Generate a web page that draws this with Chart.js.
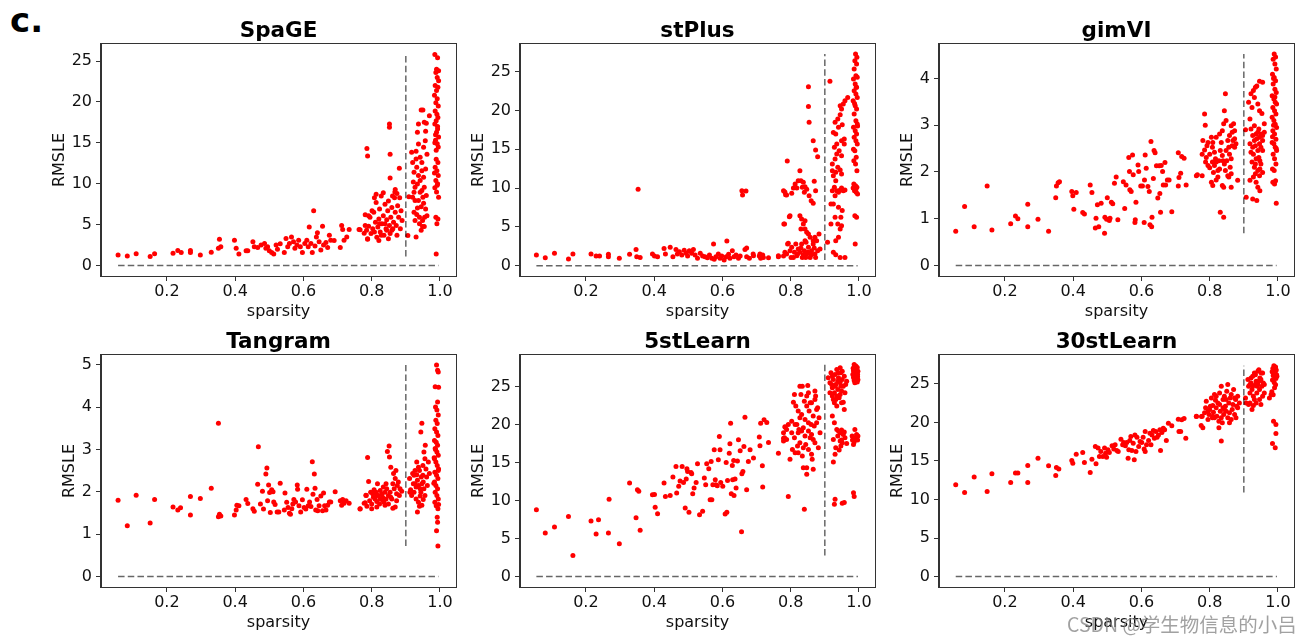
<!DOCTYPE html>
<html>
<head>
<meta charset="utf-8">
<script src="https://cdn.jsdelivr.net/npm/chart.js@4.4.0/dist/chart.umd.min.js"></script>
<style>
  body { margin: 0; background: #fff; width: 1311px; height: 642px; overflow: hidden; position: relative; }
  canvas { position: absolute; }
  #tag { position: absolute; left: 10px; top: 3px; font: bold 34px "DejaVu Sans"; line-height: 1; color: #000; }
  #mark { position: absolute; left: 1067px; top: 609px; font: 19.5px "Noto Sans CJK SC"; color: rgba(130,130,130,0.75); white-space: nowrap; }
</style>
</head>
<body>
<div id="tag">c.</div>
<canvas id="p0" width="435" height="326" style="left:31px;top:0px"></canvas>
<canvas id="p1" width="435" height="326" style="left:450px;top:0px"></canvas>
<canvas id="p2" width="435" height="326" style="left:869px;top:0px"></canvas>
<canvas id="p3" width="435" height="326" style="left:31px;top:311px"></canvas>
<canvas id="p4" width="435" height="326" style="left:450px;top:311px"></canvas>
<canvas id="p5" width="435" height="326" style="left:869px;top:311px"></canvas>
<div id="mark">CSDN @学生物信息的小吕</div>
<script>
// tick labels
const sparsityTicks = [0.2, 0.4, 0.6, 0.8, 1.0];
const sparsityLabels = ['0.2', '0.4', '0.6', '0.8', '1.0'];
const rmsleTicks25 = [0, 5, 10, 15, 20, 25];
const rmsleTicks4 = [0, 1, 2, 3, 4];
const rmsleTicks5 = [0, 1, 2, 3, 4, 5];
const sparsityCut = 0.9;

const methods = ['SpaGE', 'stPlus', 'gimVI', 'Tangram', '5stLearn', '30stLearn'];

// [sparsity, RMSLE] per gene
const spagePts = [
[0.057,1.3],[0.084,1.18],[0.110,1.43],[0.151,1.1],[0.164,1.43],[0.218,1.5],[0.232,1.83],[0.242,1.6],[0.269,1.83],[0.269,1.6],
[0.298,1.3],[0.330,1.63],[0.351,2.1],[0.354,3.2],[0.358,2.3],[0.398,3.1],[0.403,2.1],[0.411,1.4],[0.432,1.8],[0.437,1.8],
[0.452,2.9],[0.456,2.3],[0.466,2.2],[0.476,2.5],[0.486,2.7],[0.490,2.1],[0.495,2.3],[0.500,1.8],[0.507,1.6],[0.513,1.4],
[0.520,2.5],[0.524,2.0],[0.532,2.65],[0.544,1.6],[0.549,3.3],[0.554,2.3],[0.559,2.7],[0.565,3.5],[0.571,2.9],[0.575,2.1],
[0.581,2.5],[0.586,3.1],[0.591,2.3],[0.597,1.6],[0.604,2.7],[0.610,3.1],[0.614,2.3],[0.617,4.7],[0.622,2.7],[0.626,1.6],
[0.630,6.7],[0.634,2.4],[0.638,3.5],[0.641,4.0],[0.646,2.9],[0.651,1.9],[0.656,4.8],[0.659,2.5],[0.666,2.8],[0.671,2.2],
[0.676,3.7],[0.680,3.1],[0.690,3.05],[0.708,2.2],[0.712,4.9],[0.715,4.4],[0.719,3.1],[0.727,3.5],[0.734,4.4],[0.763,4.4],
[0.778,3.95],[0.786,14.3],[0.788,13.4],[0.788,3.2],
[0.766,4.36],[0.781,4.9],[0.781,6.2],[0.785,4.3],[0.788,3.27],[0.791,4.8],[0.795,5.9],[0.798,3.9],[0.801,6.7],[0.803,4.5],
[0.808,8.3],[0.811,5.3],[0.813,7.7],[0.815,3.46],[0.818,4.7],[0.821,5.7],[0.823,6.9],[0.825,4.1],[0.828,8.5],[0.830,5.1],
[0.834,6.1],[0.836,3.7],[0.839,7.5],[0.842,4.5],[0.844,5.6],[0.847,6.7],[0.849,7.9],[0.852,4.9],[0.854,3.9],[0.856,5.9],
[0.859,7.1],[0.862,4.5],[0.864,5.3],[0.867,8.3],[0.869,6.5],[0.872,4.9],[0.874,3.7],[0.876,7.3],[0.879,5.9],[0.882,8.3],
[0.884,4.5],[0.886,6.7],[0.889,5.5],[0.869,9.3],[0.861,8.5],[0.834,8.9],[0.813,8.7],[0.791,6.1],[0.806,6.5],[0.821,3.06],
[0.849,3.27],[0.839,5.1],[0.823,5.1],[0.844,4.3],[0.859,4.3],[0.828,3.7],[0.808,4.1],[0.852,17.3],[0.852,16.9],[0.854,13.6],
[0.881,11.9],[0.854,10.7],[0.868,9.0],[0.874,8.8],
[0.909,8.4],[0.906,3.66],[0.930,3.5],
[0.917,13.84],[0.930,13.96],[0.937,17.3],[0.934,16.28],[0.945,19.0],[0.950,19.0],[0.954,17.5],[0.958,16.4],[0.960,17.4],[0.969,18.3],
[0.952,14.45],[0.957,15.26],[0.930,13.03],[0.942,13.23],[0.924,11.4],[0.932,12.0],[0.937,11.0],[0.947,11.6],[0.952,10.8],[0.922,10.2],
[0.927,9.57],[0.934,9.98],[0.942,8.96],[0.947,9.16],[0.954,9.57],[0.960,8.55],[0.920,8.35],[0.927,7.94],[0.937,7.94],[0.945,7.2],
[0.952,7.6],[0.958,6.9],[0.924,6.5],[0.932,6.23],[0.940,5.9],[0.949,5.5],[0.927,5.5],[0.954,4.77],[0.940,5.1],[0.962,6.1],
[0.934,7.04],[0.950,8.35],[0.942,10.4],[0.958,11.8],[0.962,13.6],[0.920,12.6],[0.947,12.6],[0.937,14.86],[0.924,8.96],[0.955,5.9],
[0.945,4.3],[0.949,4.77],
[0.985,25.8],[0.993,25.4],[0.990,24.0],[0.996,23.8],[0.988,23.6],[0.992,23.0],[0.986,22.0],[0.994,21.8],[0.990,21.4],[0.984,20.8],
[0.992,20.4],[0.988,19.9],[0.995,19.5],[0.986,18.9],[0.991,18.5],[0.994,18.1],[0.989,17.7],[0.985,17.3],[0.993,16.7],[0.990,16.3],
[0.996,15.7],[0.987,15.3],[0.992,14.9],[0.989,14.1],[0.994,12.6],[0.986,12.0],[0.991,11.6],[0.995,11.0],[0.988,10.4],[0.993,10.0],
[0.985,9.5],[0.990,9.0],[0.996,8.35],[0.988,5.9],[0.994,5.7],[0.991,5.1],[0.989,1.4],[0.993,17.0],[0.987,16.0],[0.995,14.5],
[0.984,11.3],[0.992,9.8],[0.989,13.0],[0.996,22.6],[0.985,15.0]
];

const stplusPts = [
[0.055,1.37],[0.081,1.03],[0.108,1.6],[0.149,0.86],[0.162,1.5],[0.215,1.5],[0.230,1.25],[0.240,1.25],[0.266,1.46],[0.266,1.16],
[0.298,0.95],[0.328,1.46],[0.347,2.1],[0.353,9.84],[0.349,1.16],[0.359,1.07],[0.395,1.5],[0.401,1.25],[0.410,1.16],[0.429,2.23],
[0.433,1.5],[0.447,2.36],[0.455,1.16],[0.464,2.1],[0.468,1.5],[0.474,1.8],[0.481,1.37],[0.488,2.0],[0.494,1.6],[0.498,1.25],
[0.503,1.93],[0.510,1.6],[0.515,2.1],[0.520,1.37],[0.527,0.95],[0.535,1.6],[0.542,1.25],[0.549,1.16],[0.556,1.03],[0.562,1.37],
[0.569,0.95],[0.574,2.8],[0.576,0.82],[0.581,1.16],[0.588,1.5],[0.593,0.95],[0.598,1.25],[0.605,0.73],[0.611,1.16],[0.613,3.18],
[0.618,1.46],[0.622,0.95],[0.629,1.93],[0.634,1.16],[0.640,1.37],[0.647,0.95],[0.652,1.25],[0.657,9.66],[0.659,9.1],[0.666,2.1],
[0.669,9.62],[0.671,1.16],[0.679,0.95],[0.690,1.5],[0.708,1.25],[0.712,0.95],[0.718,1.37],[0.735,1.03],[0.764,1.16],[0.779,1.25],
[0.780,5.37],[0.783,9.5],[0.788,9.1],[0.790,13.5],[0.793,2.88],[0.796,6.3],
[0.671,2.28],[0.691,1.29],[0.710,1.5],[0.720,1.07],[0.764,1.29],[0.788,1.5],[0.791,2.79],[0.798,1.93],[0.803,2.36],[0.811,1.72],
[0.815,2.79],[0.818,1.29],[0.822,2.15],[0.827,1.72],[0.832,2.79],[0.834,1.07],[0.840,1.93],[0.842,3.22],[0.847,1.5],[0.852,2.36],
[0.857,1.07],[0.861,1.93],[0.866,2.79],[0.871,1.5],[0.873,1.07],[0.879,1.93],[0.883,4.08],[0.886,2.15],[0.876,3.22],[0.808,1.07],
[0.820,1.5],[0.837,1.42],[0.850,1.72],[0.860,1.42],[0.869,2.28],[0.830,2.28],[0.801,1.07],[0.783,1.72],[0.844,1.07],
[0.782,5.37],[0.798,6.44],[0.827,6.44],[0.832,6.01],[0.837,5.37],[0.830,4.73],[0.842,4.73],[0.847,4.3],[0.852,4.08],[0.857,3.65],
[0.845,3.01],[0.842,5.8],[0.866,3.22],[0.871,3.65],
[0.779,9.67],[0.785,9.15],[0.803,9.32],[0.808,10.01],[0.813,10.52],[0.822,10.95],[0.830,10.95],[0.834,10.1],[0.837,10.74],[0.842,10.18],
[0.847,9.84],[0.854,9.02],[0.860,8.38],[0.866,8.03],[0.869,10.87],[0.873,9.67],[0.827,12.24],[0.818,10.01],[0.840,9.45],
[0.852,23.07],[0.852,20.5],[0.854,18.47],[0.866,16.1],[0.873,14.9],[0.879,14.05],
[0.915,23.76],[0.908,3.01],[0.918,7.95],[0.925,7.95],[0.922,9.67],[0.928,10.1],[0.932,10.95],[0.930,9.02],[0.935,9.67],[0.940,9.45],
[0.945,9.75],[0.949,10.01],[0.954,9.67],[0.959,9.75],[0.925,11.6],[0.932,12.03],[0.938,12.67],[0.945,12.33],[0.949,11.81],[0.930,13.75],
[0.935,14.39],[0.942,14.82],[0.949,14.18],[0.928,15.25],[0.935,15.68],[0.949,16.11],[0.957,16.32],[0.925,17.18],[0.932,16.97],[0.940,17.83],
[0.938,18.9],[0.945,19.46],[0.949,20.19],[0.945,20.62],[0.954,20.83],[0.959,21.26],[0.967,21.69],[0.930,18.47],[0.951,18.17],[0.957,15.68],
[0.922,12.24],[0.930,6.23],[0.938,5.37],[0.945,4.73],[0.949,5.15],[0.947,6.23],[0.940,3.65],[0.932,3.22],[0.925,1.72],[0.932,1.42],
[0.945,1.07],[0.959,1.07],[0.940,7.52],[0.951,7.1],[0.922,13.1],[0.918,5.37],
[0.990,27.28],[0.994,26.85],[0.988,26.42],[0.993,25.99],[0.986,25.35],[0.991,24.49],[0.995,24.27],[0.984,24.06],[0.989,23.41],[0.993,22.98],
[0.986,22.55],[0.991,22.12],[0.995,21.69],[0.983,21.26],[0.989,20.62],[0.993,20.19],[0.986,19.55],[0.991,18.69],[0.995,18.26],[0.984,17.83],
[0.989,17.4],[0.993,16.97],[0.986,16.54],[0.991,16.11],[0.995,15.68],[0.988,14.82],[0.992,13.96],[0.985,13.53],[0.990,13.1],[0.994,12.24],
[0.985,10.52],[0.990,10.31],[0.994,10.1],[0.987,9.67],[0.992,9.45],[0.996,9.24],[0.988,6.44],[0.993,6.23],[0.989,2.79],[0.992,23.0],
[0.987,20.9],[0.996,18.0],[0.984,15.0],[0.991,9.9],[0.983,10.0]
];

const gimviPts = [
[0.056,0.73],[0.082,1.26],[0.110,0.83],[0.148,1.70],[0.162,0.76],[0.217,0.89],[0.231,1.06],[0.238,1.0],[0.267,1.31],[0.267,0.83],
[0.297,0.99],[0.328,0.73],[0.349,1.45],[0.351,1.70],[0.356,1.77],[0.360,1.79],[0.396,1.58],[0.399,1.49],[0.409,1.56],[0.402,1.20],
[0.428,1.13],[0.433,1.10],[0.450,1.72],[0.455,1.56],[0.465,0.80],[0.467,1.01],[0.471,1.30],[0.475,0.83],[0.482,1.33],[0.492,0.69],
[0.493,1.03],[0.498,0.99],[0.500,1.45],[0.506,0.96],[0.508,1.01],[0.512,1.35],[0.516,1.32],[0.521,1.76],[0.526,1.89],[0.531,0.98],
[0.547,1.79],[0.551,1.22],[0.555,1.72],[0.563,2.31],[0.565,2.01],[0.566,1.62],[0.570,1.58],[0.574,2.36],[0.576,1.94],[0.581,0.92],
[0.582,0.98],[0.584,1.35],[0.590,2.15],[0.592,2.01],[0.598,1.70],[0.603,1.70],[0.608,0.92],[0.609,1.83],[0.611,2.36],[0.614,2.08],
[0.619,1.69],[0.623,1.58],[0.625,0.87],[0.628,2.65],[0.630,0.83],[0.631,1.03],[0.635,1.86],[0.637,2.46],[0.640,2.41],[0.644,2.13],
[0.648,1.44],[0.652,2.13],[0.654,1.54],[0.656,1.14],[0.658,2.14],[0.662,2.01],[0.664,1.72],[0.669,2.20],[0.671,1.72],[0.676,1.83],
[0.681,1.83],[0.689,1.15],[0.708,2.41],[0.710,1.88],[0.708,1.70],[0.715,1.97],[0.718,2.33],[0.725,2.29],[0.731,1.72],[0.764,1.94],
[0.761,1.92],[0.778,1.92],[0.785,3.24],[0.787,3.0],[0.780,2.67],[0.778,2.38],[0.785,2.47],[0.790,2.31],[0.788,2.21],[0.795,2.14],
[0.800,2.09],[0.792,2.56],[0.805,2.74],[0.809,2.63],[0.808,2.53],[0.814,2.42],[0.817,2.28],[0.819,2.21],[0.811,1.99],[0.805,1.78],
[0.809,1.71],[0.819,1.83],[0.824,1.89],[0.829,2.06],[0.827,2.24],[0.831,2.46],[0.834,2.63],[0.829,2.81],[0.837,2.88],[0.841,3.03],
[0.843,3.31],[0.846,3.67],[0.848,3.1],[0.853,2.67],[0.856,2.53],[0.858,2.38],[0.850,2.24],[0.863,2.99],[0.866,2.85],[0.870,3.03],
[0.873,2.88],[0.868,2.67],[0.873,2.53],[0.863,2.28],[0.860,2.1],[0.853,1.92],[0.846,2.03],[0.839,2.24],[0.837,1.71],[0.841,1.67],
[0.856,1.89],[0.863,1.67],[0.882,1.82],[0.873,2.71],[0.877,2.6],[0.866,2.56],[0.831,1.14],[0.841,1.03],[0.824,2.03],[0.808,2.21],
[0.800,2.38],[0.795,2.63],[0.819,2.74],[0.848,2.46],[0.858,2.78],[0.837,2.35],[0.814,2.14],[0.843,2.17],[0.863,1.96],
[0.905,2.9],[0.907,1.46],[0.914,3.49],[0.918,3.13],[0.921,3.67],[0.924,3.38],[0.928,3.74],[0.931,3.59],[0.934,3.81],[0.938,3.84],
[0.946,3.94],[0.955,3.92],[0.941,3.45],[0.946,3.31],[0.953,3.25],[0.960,3.03],[0.921,2.92],[0.926,2.78],[0.931,2.67],[0.936,2.81],
[0.941,2.85],[0.946,2.74],[0.950,2.81],[0.955,2.78],[0.960,2.85],[0.918,2.6],[0.926,2.53],[0.934,2.56],[0.941,2.46],[0.946,2.6],
[0.950,2.53],[0.955,2.67],[0.928,2.38],[0.936,2.28],[0.944,2.31],[0.950,2.17],[0.924,2.21],[0.931,2.1],[0.941,2.03],[0.947,2.06],
[0.955,1.99],[0.928,1.89],[0.934,1.96],[0.941,1.67],[0.947,1.6],[0.926,1.42],[0.938,1.39],[0.918,1.82],[0.936,1.78],[0.946,1.92],
[0.955,2.46],[0.938,2.71],[0.931,2.99],[0.944,2.92],[0.921,2.42],[0.947,2.24],[0.934,2.17],
[0.989,4.52],[0.993,4.46],[0.986,4.41],[0.991,4.31],[0.995,4.2],[0.984,4.09],[0.989,4.02],[0.993,3.95],[0.986,3.88],[0.991,3.77],
[0.995,3.7],[0.983,3.63],[0.988,3.56],[0.992,3.49],[0.996,3.45],[0.985,3.38],[0.990,3.31],[0.994,3.24],[0.983,3.17],[0.988,3.1],
[0.992,3.02],[0.996,2.95],[0.985,2.88],[0.990,2.81],[0.994,2.7],[0.983,2.63],[0.988,2.6],[0.992,2.53],[0.996,2.46],[0.986,2.38],
[0.990,2.28],[0.994,2.17],[0.984,2.06],[0.989,2.03],[0.993,1.81],[0.985,1.78],[0.990,1.74],[0.995,1.33],[0.987,3.0],[0.995,2.5],
[0.991,3.6],[0.987,4.0],[0.984,2.75]
];

const tangramPts = [
[0.057,1.80],[0.084,1.20],[0.110,1.92],[0.151,1.26],[0.164,1.82],[0.218,1.64],[0.232,1.57],[0.240,1.62],[0.269,1.89],[0.269,1.45],
[0.298,1.84],[0.330,2.08],[0.351,3.62],[0.354,1.47],[0.358,1.43],[0.351,1.41],[0.398,1.45],[0.403,1.57],[0.405,1.68],[0.411,1.67],
[0.432,1.82],[0.437,1.72],[0.452,1.60],[0.456,1.54],[0.466,2.18],[0.468,3.06],[0.474,1.71],[0.480,2.01],[0.483,1.59],[0.490,2.42],
[0.493,2.56],[0.495,1.79],[0.498,2.16],[0.501,1.98],[0.503,1.51],[0.507,2.05],[0.511,2.00],[0.513,1.76],[0.517,1.70],[0.523,1.52],
[0.528,1.52],[0.532,2.20],[0.544,1.57],[0.546,1.97],[0.551,1.75],[0.555,1.63],[0.559,1.49],[0.562,1.47],[0.566,1.60],[0.569,1.71],
[0.572,1.82],[0.577,1.76],[0.582,2.16],[0.583,2.06],[0.587,1.67],[0.592,1.52],[0.597,1.81],[0.602,1.63],[0.607,1.59],[0.610,2.06],
[0.614,1.67],[0.618,1.76],[0.622,1.65],[0.626,2.71],[0.628,1.94],[0.632,2.42],[0.634,2.08],[0.636,1.57],[0.640,1.82],[0.642,1.55],
[0.646,1.67],[0.651,1.90],[0.656,1.55],[0.659,1.97],[0.662,1.67],[0.666,1.57],[0.671,1.68],[0.676,1.76],[0.680,1.76],[0.693,2.00],
[0.708,1.79],[0.712,1.68],[0.715,1.82],[0.719,1.73],[0.725,1.79],[0.734,1.73],[0.766,1.59],[0.778,1.73],[0.783,1.92],[0.788,2.81],
[0.791,2.24],
[0.766,1.6],[0.781,1.74],[0.784,1.91],[0.786,1.66],[0.794,1.79],[0.797,1.99],[0.800,1.71],[0.805,1.87],[0.807,2.05],[0.810,1.83],
[0.813,1.99],[0.815,1.77],[0.817,2.19],[0.820,1.91],[0.823,1.71],[0.825,2.03],[0.827,1.83],[0.830,1.95],[0.832,1.87],[0.834,2.11],
[0.836,1.75],[0.839,1.99],[0.842,1.83],[0.844,2.07],[0.846,2.95],[0.849,1.71],[0.851,3.08],[0.852,2.82],[0.854,1.99],[0.856,2.58],
[0.859,1.83],[0.862,2.19],[0.864,2.43],[0.866,2.07],[0.869,2.31],[0.871,2.5],[0.873,1.95],[0.875,2.15],[0.878,2.23],[0.881,1.91],
[0.883,2.07],[0.869,1.64],[0.862,1.61],[0.839,1.68],[0.815,1.64],[0.800,1.6],[0.888,2.01],[0.803,1.95],[0.825,1.83],[0.849,1.91],
[0.834,1.79],[0.815,1.91],[0.856,1.87],[0.873,1.79],[0.842,2.19],
[0.911,2.31],[0.914,2.05],[0.920,2.43],[0.924,2.39],[0.927,2.19],[0.930,2.11],[0.932,2.7],[0.934,2.27],[0.937,2.15],[0.940,2.5],
[0.942,2.07],[0.945,2.35],[0.947,3.62],[0.944,3.41],[0.950,2.62],[0.951,2.23],[0.953,2.94],[0.956,2.78],[0.959,2.54],[0.961,2.35],
[0.966,2.7],[0.969,2.43],[0.924,1.99],[0.930,1.83],[0.937,1.75],[0.942,1.9],[0.947,1.68],[0.951,1.82],[0.934,1.52],[0.940,1.66],
[0.927,2.5],[0.932,2.4],[0.947,2.19],[0.953,2.07],[0.957,3.1],[0.917,1.91],[0.944,1.99],[0.950,2.39],[0.922,2.19],[0.937,2.58],
[0.956,1.91],[0.963,2.15],[0.912,1.99],
[0.990,4.99],[0.993,4.87],[0.995,4.83],[0.986,4.48],[0.996,4.47],[0.993,4.12],[0.987,4.0],[0.991,3.93],[0.995,3.81],[0.988,3.69],
[0.992,3.61],[0.985,3.49],[0.990,3.41],[0.994,3.33],[0.984,3.21],[0.989,3.17],[0.993,3.1],[0.986,3.02],[0.991,2.94],[0.995,2.86],
[0.984,2.78],[0.988,2.7],[0.992,2.62],[0.996,2.54],[0.985,2.46],[0.990,2.39],[0.994,2.31],[0.984,2.23],[0.988,2.15],[0.993,2.07],
[0.986,1.99],[0.991,1.91],[0.995,1.83],[0.985,1.75],[0.989,1.67],[0.994,1.6],[0.992,1.4],[0.993,1.28],[0.990,1.08],[0.994,0.72],
[0.987,3.0],[0.995,2.5],[0.983,2.8],[0.996,1.7],[0.982,2.2]
];

const st5Pts = [
[0.055,8.80],[0.081,5.74],[0.108,6.52],[0.149,7.92],[0.162,2.76],[0.215,7.31],[0.230,5.60],[0.237,7.49],[0.266,5.74],[0.268,10.16],
[0.298,4.33],[0.328,12.30],[0.347,7.75],[0.351,11.43],[0.355,11.21],[0.359,6.09],[0.395,10.77],[0.401,10.81],[0.403,9.11],[0.410,8.27],
[0.429,12.30],[0.433,10.55],[0.447,10.68],[0.455,13.09],[0.464,14.49],[0.466,10.99],[0.472,11.87],[0.476,12.57],[0.482,14.49],[0.486,12.39],
[0.491,9.02],[0.494,12.83],[0.496,14.19],[0.498,13.84],[0.502,8.45],[0.508,13.70],[0.510,13.53],[0.513,10.90],[0.517,11.65],[0.523,12.39],
[0.527,14.84],[0.533,8.14],[0.542,8.58],[0.547,12.96],[0.551,12.08],[0.554,14.84],[0.560,14.19],[0.564,10.11],[0.567,15.15],[0.569,10.11],
[0.572,12.08],[0.576,16.68],[0.579,12.74],[0.581,12.08],[0.585,11.95],[0.588,15.37],[0.591,18.43],[0.593,16.68],[0.595,12.39],[0.601,11.87],
[0.608,8.23],[0.611,15.02],[0.613,8.45],[0.615,12.65],[0.620,16.24],[0.622,17.47],[0.624,20.18],[0.626,10.90],[0.629,14.62],[0.630,12.74],
[0.633,15.28],[0.634,10.68],[0.637,12.83],[0.640,11.65],[0.644,15.19],[0.647,18.00],[0.652,16.55],[0.656,5.91],[0.657,13.53],[0.660,13.84],
[0.663,17.12],[0.666,20.97],[0.671,11.43],[0.676,15.15],[0.681,16.68],[0.691,15.59],[0.708,18.35],[0.710,17.21],[0.712,20.18],[0.717,14.58],
[0.718,11.78],[0.722,20.62],[0.730,20.27],[0.735,17.64],[0.764,16.24],[0.779,18.21],[0.784,19.66],[0.793,10.55],
[0.779,18.92],[0.782,18.27],[0.779,17.83],[0.783,19.71],[0.788,19.36],[0.793,20.02],[0.798,15.42],[0.803,20.45],[0.805,16.73],[0.808,22.95],
[0.811,23.96],[0.813,16.3],[0.815,22.43],[0.811,18.27],[0.818,20.02],[0.822,18.92],[0.820,17.17],[0.824,19.36],[0.827,20.89],[0.827,25.05],
[0.830,23.96],[0.832,21.33],[0.834,15.86],[0.837,14.32],[0.837,19.58],[0.840,23.08],[0.842,20.67],[0.844,17.39],[0.847,22.43],[0.847,14.32],
[0.847,13.45],[0.850,25.14],[0.852,24.18],[0.852,19.14],[0.854,21.77],[0.857,18.27],[0.860,20.02],[0.861,22.86],[0.861,16.08],[0.863,15.42],
[0.866,21.11],[0.869,19.8],[0.871,24.4],[0.871,23.3],[0.873,23.74],[0.876,21.99],[0.879,22.21],[0.881,16.95],[0.883,20.89],[0.886,18.92],
[0.866,14.11],[0.840,8.85],[0.834,25.05],[0.813,20.02],[0.822,21.77],[0.832,19.14],[0.842,18.48],[0.852,20.24],[0.861,18.7],[0.871,17.61],
[0.857,22.86],[0.847,23.74],[0.866,18.05],[0.837,16.95],[0.822,16.3],[0.852,16.73],[0.876,20.24],[0.803,18.92],[0.788,18.05],[0.827,17.61],
[0.910,26.15],[0.915,25.49],[0.918,26.8],[0.922,24.83],[0.925,25.93],[0.928,24.18],[0.930,26.58],[0.932,25.27],[0.935,27.24],[0.938,24.61],
[0.940,26.15],[0.942,23.52],[0.945,27.46],[0.945,25.49],[0.947,26.8],[0.949,24.4],[0.951,25.93],[0.954,25.05],[0.957,26.37],[0.959,24.18],
[0.961,25.27],[0.928,22.86],[0.935,22.43],[0.954,22.95],[0.957,21.99],[0.922,23.74],[0.932,23.3],[0.945,23.96],[0.949,22.86],[0.920,25.27],
[0.930,25.05],[0.938,25.71],[0.915,24.18],[0.925,23.3],[0.940,26.8],[0.951,27.02],[0.964,25.71],[0.947,25.05],[0.935,23.74],[0.922,26.37],
[0.925,18.05],[0.935,19.36],[0.940,19.14],[0.945,18.92],[0.949,19.27],[0.954,18.7],[0.938,18.48],[0.945,17.83],[0.951,17.61],[0.959,18.27],
[0.964,17.52],[0.932,16.95],[0.947,17.17],[0.942,16.65],[0.930,16.08],[0.925,15.07],[0.922,21.11],[0.928,20.24],[0.949,17.96],[0.957,19.01],
[0.930,10.17],[0.928,9.51],[0.951,9.64],[0.957,9.73],
[0.986,27.9],[0.991,27.7],[0.995,27.5],[0.983,27.4],[0.988,27.2],[0.993,27.1],[0.997,27.0],[0.985,26.9],[0.990,26.8],[0.994,26.7],
[0.982,26.6],[0.987,26.5],[0.992,26.4],[0.996,26.3],[0.984,26.2],[0.989,26.1],[0.993,26.0],[0.997,25.9],[0.986,25.8],[0.991,25.7],
[0.995,25.6],[0.988,25.5],[0.990,27.4],[0.984,27.1],[0.996,26.6],[0.992,26.9],[0.987,26.2],[0.994,25.9],
[0.988,19.36],[0.993,18.7],[0.997,18.48],[0.988,18.27],[0.981,17.96],[0.986,17.7],[0.996,17.96],[0.984,17.39],[0.980,18.48],[0.990,18.05],
[0.984,11.04],[0.986,10.52]
];

const st30Pts = [
[0.056,11.92],[0.082,10.92],[0.110,12.91],[0.148,11.05],[0.162,13.34],[0.217,12.22],[0.231,13.43],[0.238,13.43],[0.267,14.42],[0.267,12.22],
[0.297,15.37],[0.328,14.38],[0.349,13.13],[0.351,14.16],[0.358,13.95],[0.396,15.07],[0.399,14.72],[0.409,15.89],[0.428,16.11],[0.433,14.81],
[0.450,13.51],[0.455,15.24],[0.465,16.88],[0.467,14.64],[0.473,16.67],[0.477,15.59],[0.481,16.23],[0.487,15.59],[0.492,16.67],[0.495,16.02],
[0.498,15.50],[0.502,16.45],[0.506,16.11],[0.514,16.97],[0.519,16.54],[0.523,17.10],[0.528,16.36],[0.532,16.23],[0.540,17.83],[0.545,17.10],
[0.548,17.40],[0.553,16.97],[0.557,17.40],[0.561,15.37],[0.563,16.45],[0.566,17.66],[0.569,18.18],[0.572,16.36],[0.576,17.31],[0.579,15.16],
[0.581,18.39],[0.584,16.23],[0.587,18.09],[0.592,16.88],[0.596,17.53],[0.601,17.40],[0.605,18.09],[0.608,16.54],[0.611,16.23],[0.611,18.83],
[0.615,17.10],[0.621,17.66],[0.625,18.61],[0.628,17.10],[0.631,18.39],[0.635,18.96],[0.638,17.96],[0.642,18.83],[0.646,18.09],[0.650,18.39],
[0.654,19.04],[0.656,16.36],[0.660,18.70],[0.664,19.26],[0.668,19.04],[0.673,17.66],[0.679,19.90],[0.689,19.56],[0.708,20.42],[0.710,18.83],
[0.715,18.83],[0.718,20.34],[0.725,20.51],[0.730,17.96],[0.761,20.77],[0.776,20.77],
[0.761,20.82],[0.775,19.61],[0.778,20.82],[0.780,19.3],[0.785,21.25],[0.788,21.9],[0.790,22.76],[0.795,20.38],[0.798,21.03],[0.800,21.68],
[0.805,23.19],[0.808,20.6],[0.809,22.2],[0.811,21.33],[0.814,23.62],[0.817,22.89],[0.819,21.9],[0.821,20.82],[0.824,22.54],[0.827,20.17],
[0.829,23.84],[0.831,21.46],[0.834,24.7],[0.834,17.58],[0.837,19.95],[0.839,22.97],[0.841,21.03],[0.843,23.41],[0.846,22.11],[0.848,21.46],
[0.850,24.05],[0.853,24.92],[0.853,20.6],[0.856,22.54],[0.858,19.95],[0.860,23.19],[0.863,23.62],[0.866,21.68],[0.868,22.33],[0.870,24.27],
[0.873,21.03],[0.876,22.97],[0.877,20.6],[0.879,22.11],[0.882,21.9],[0.887,22.54],[0.827,19.3],[0.814,20.6],[0.802,22.11],[0.809,20.82],
[0.829,22.33],[0.843,21.68],[0.858,21.25],[0.873,23.19],[0.819,23.41],[0.848,22.97],[0.834,20.6],[0.863,20.38],[0.839,21.9],[0.795,21.46],
[0.882,23.41],
[0.905,23.19],[0.907,22.54],[0.912,25.57],[0.914,24.7],[0.918,23.84],[0.921,25.13],[0.924,24.27],[0.926,26.0],[0.928,23.41],[0.931,26.43],
[0.934,24.92],[0.936,22.54],[0.938,23.84],[0.941,26.65],[0.944,25.35],[0.946,22.97],[0.947,25.78],[0.950,22.33],[0.953,24.7],[0.955,23.41],
[0.957,25.13],[0.960,23.84],[0.944,26.86],[0.934,26.21],[0.924,21.68],[0.928,22.2],[0.918,22.54],[0.951,26.43],[0.939,24.7],[0.946,24.27],
[0.931,22.97],[0.921,25.78],[0.955,26.43],[0.914,22.33],[0.941,24.92],[0.926,24.7],[0.950,25.57],[0.936,25.35],[0.918,24.92],[0.960,24.92],
[0.988,27.38],[0.993,27.2],[0.985,27.0],[0.990,26.9],[0.995,26.8],[0.983,26.6],[0.988,26.5],[0.992,26.4],[0.996,26.2],[0.986,26.1],
[0.991,25.9],[0.994,25.7],[0.984,25.5],[0.989,25.2],[0.993,24.9],[0.997,26.0],[0.987,26.7],[0.990,24.5],[0.982,24.0],[0.986,23.6],
[0.975,23.19],[0.980,23.62],[0.987,20.17],[0.994,19.74],[0.984,17.28],[0.994,18.57],[0.992,16.71]
];

const panelPts = [spagePts, stplusPts, gimviPts, tangramPts, st5Pts, st30Pts];
const panelYTicks = [rmsleTicks25, rmsleTicks25, rmsleTicks4, rmsleTicks5, rmsleTicks25, rmsleTicks25];
const panelYRange = [[-1.28, 27.08], [-1.33, 28.57], [-0.2255, 4.7355], [-0.249, 5.229], [-1.37, 29.15], [-1.36, 28.76]];

Chart.defaults.font.family = 'DejaVu Sans';

const panelTitle = {
  id: 'panelTitle',
  afterDraw(chart, args, opts) {
    const { ctx, chartArea } = chart;
    ctx.save();
    ctx.font = 'bold 21.5px "DejaVu Sans"';
    ctx.fillStyle = '#000';
    ctx.textAlign = 'center';
    ctx.textBaseline = 'alphabetic';
    ctx.fillText(opts.text, (chartArea.left + chartArea.right) / 2, chartArea.top - 7);
    ctx.restore();
  }
};

const frame = {
  id: 'frame',
  afterDraw(chart) {
    const { ctx, chartArea: a } = chart;
    ctx.save();
    ctx.strokeStyle = '#333';
    ctx.lineWidth = 1;
    ctx.strokeRect(a.left - 0.5, a.top - 0.5, a.right - a.left + 1, a.bottom - a.top + 1);
    ctx.restore();
  }
};

methods.forEach((name, i) => {
  const pts = panelPts[i];
  const xs = pts.map(p => p[0]);
  const ys = pts.map(p => p[1]);
  const yTicks = panelYTicks[i];
  const oneDigit = yTicks[yTicks.length - 1] < 10;
  const dash = { borderColor: 'rgba(0,0,0,0.6)', borderWidth: 1.5, borderDash: [6.5, 3.2], showLine: true, pointRadius: 0, order: 0 };

  new Chart(document.getElementById('p' + i), {
    type: 'scatter',
    data: {
      datasets: [
        { data: pts.map(p => ({ x: p[0], y: p[1] })), backgroundColor: '#ff0000', borderWidth: 0, pointRadius: 2.5, order: 1 },
        Object.assign({ data: [{ x: sparsityCut, y: Math.min(...ys) }, { x: sparsityCut, y: Math.max(...ys) }] }, dash),
        Object.assign({ data: [{ x: Math.min(...xs), y: 0 }, { x: Math.max(...xs), y: 0 }] }, dash)
      ]
    },
    options: {
      responsive: false,
      animation: false,
      events: [],
      layout: { padding: { left: 0, top: 44, right: 10, bottom: 0 } },
      plugins: { legend: { display: false }, tooltip: { enabled: false }, panelTitle: { text: name } },
      scales: {
        x: {
          type: 'linear', min: 0.007, max: 1.047,
          afterBuildTicks: s => { s.ticks = sparsityTicks.map(v => ({ value: v })); },
          afterFit: s => { s.height = 50; },
          ticks: { font: { size: 16 }, color: '#111', padding: 1, maxRotation: 0, callback: (v, idx) => sparsityLabels[idx] },
          grid: { drawOnChartArea: false, drawTicks: true, tickLength: 5, tickColor: '#333' },
          border: { display: true, color: '#333' },
          title: { display: true, text: 'sparsity', font: { size: 16 }, color: '#111', padding: { top: 0, bottom: 5 } }
        },
        y: {
          type: 'linear', min: panelYRange[i][0], max: panelYRange[i][1],
          afterBuildTicks: s => { s.ticks = yTicks.map(v => ({ value: v })); },
          afterFit: s => { s.width = 70; },
          ticks: { font: { size: 16 }, color: '#111', padding: 4, callback: (v, idx) => String(yTicks[idx]) },
          grid: { drawOnChartArea: false, drawTicks: true, tickLength: 5, tickColor: '#333' },
          border: { display: true, color: '#333' },
          title: { display: true, text: 'RMSLE', font: { size: 16 }, color: '#111', padding: { top: oneDigit ? 29.4 : 19.4, bottom: 0 } }
        }
      }
    },
    plugins: [panelTitle, frame]
  });
});
</script>
</body>
</html>
